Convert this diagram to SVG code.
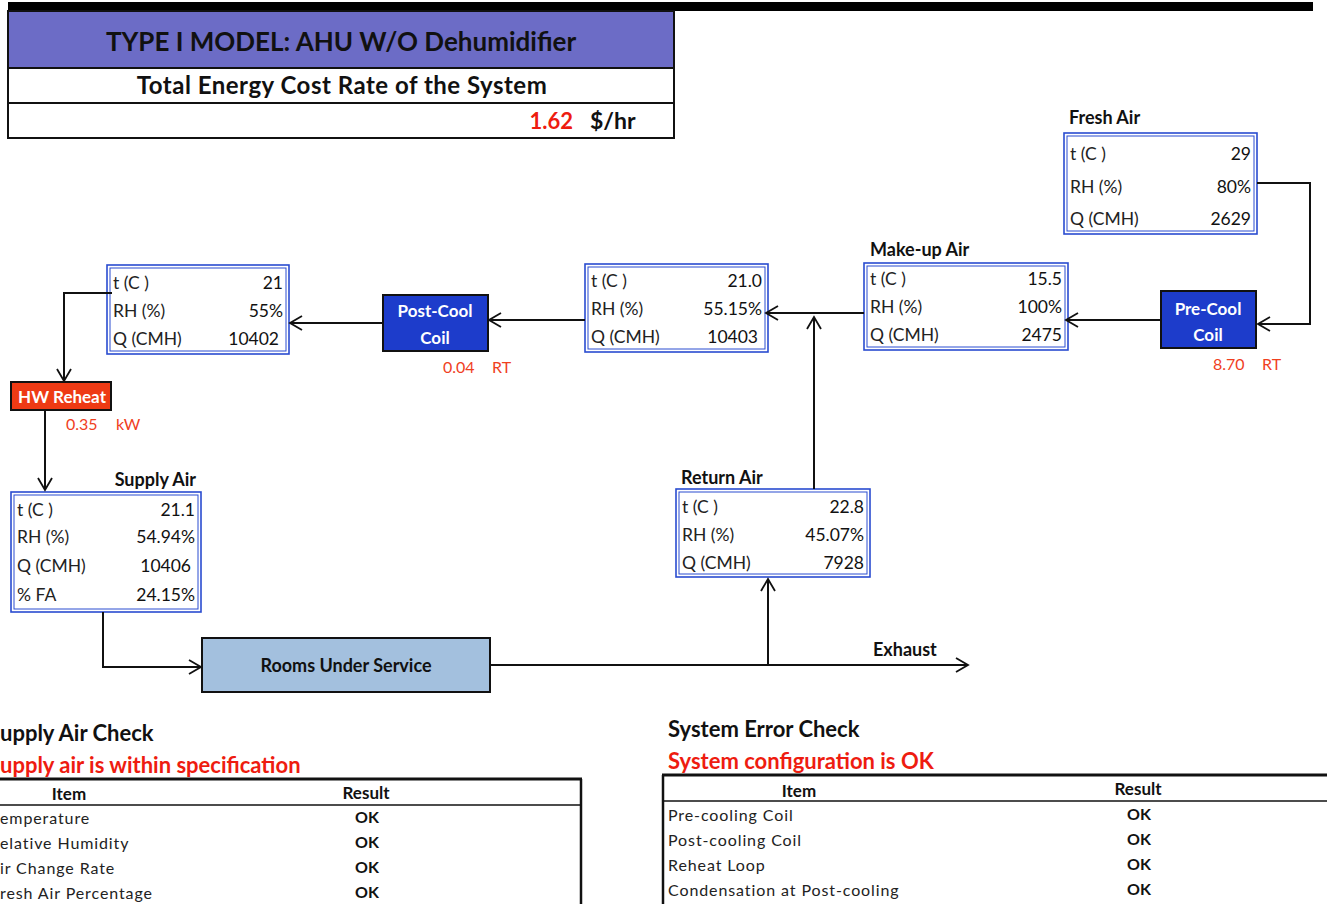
<svg xmlns="http://www.w3.org/2000/svg" width="1327" height="904" viewBox="0 0 1327 904">
<style>
text{font-family:Lato,"Open Sans","Liberation Sans",sans-serif;}
.b{font-weight:bold;}
.lab{font-size:18px;font-weight:bold;fill:#111;}
.cell{font-size:17.5px;fill:#222;}
.val{font-size:17.5px;fill:#111;text-anchor:end;}
.box1{fill:#fff;stroke:#2a4cd0;stroke-width:1.6;}
.box2{fill:none;stroke:#2a4cd0;stroke-width:1;}
.coil{fill:#1d3ccb;stroke:#111;stroke-width:2;}
.coilt{font-size:17px;font-weight:bold;fill:#fff;text-anchor:middle;}
.pow{font-size:16px;fill:#f0401e;}
.conn{fill:none;stroke:#111;stroke-width:2;marker-end:url(#arr);}
.th{font-size:17px;font-weight:bold;fill:#111;text-anchor:middle;}
.td{font-size:16px;fill:#222;letter-spacing:0.9px;}
.ok{font-size:16px;font-weight:bold;fill:#111;text-anchor:middle;}
.h2{font-size:22px;font-weight:bold;fill:#111;}
.h2r{font-size:22px;font-weight:bold;fill:#ee1c10;}
</style>
<defs>
<marker id="arr" markerUnits="userSpaceOnUse" markerWidth="16" markerHeight="16" refX="13" refY="8" orient="auto">
<path d="M1,1 L13,8 L1,15" fill="none" stroke="#111" stroke-width="1.8"/>
</marker>
</defs>
<rect width="1327" height="904" fill="#fff"/>

<g id="header">
<rect x="8" y="2" width="1305" height="9" fill="#000"/>
<rect x="8" y="11" width="666" height="57" fill="#6c6cc6"/>
<rect x="8" y="68" width="666" height="70" fill="#fff"/>
<rect x="8" y="11" width="666" height="127" fill="none" stroke="#111" stroke-width="2"/>
<line x1="8" y1="68" x2="674" y2="68" stroke="#111" stroke-width="2"/>
<line x1="8" y1="103" x2="674" y2="103" stroke="#111" stroke-width="2"/>
<text x="341" y="51" text-anchor="middle" class="b" font-size="26" fill="#111">TYPE I MODEL: AHU W/O Dehumidifier</text>
<text x="342" y="94" text-anchor="middle" class="b" font-size="24" fill="#111" letter-spacing="0.5">Total Energy Cost Rate of the System</text>
<text x="573" y="129" text-anchor="end" class="b" font-size="22" fill="#ee1c10">1.62</text>
<text x="590" y="129" class="b" font-size="23" fill="#111">$/hr</text>
</g>

<g id="fresh-air">
<text x="1069" y="124" class="lab">Fresh Air</text>
<rect x="1064" y="133" width="193" height="101" class="box1"/>
<rect x="1067" y="136" width="187" height="95" class="box2"/>
<text x="1070" y="160" class="cell">t (C )</text><text x="1251" y="160" class="val">29</text>
<text x="1070" y="193" class="cell">RH (%)</text><text x="1251" y="193" class="val">80%</text>
<text x="1070" y="225" class="cell">Q (CMH)</text><text x="1251" y="225" class="val">2629</text>
</g>

<g id="pre-cool-coil">
<rect x="1161" y="291" width="95" height="57" class="coil"/>
<text x="1208" y="315" class="coilt">Pre-Cool</text>
<text x="1208" y="341" class="coilt">Coil</text>
<text x="1213" y="370" class="pow">8.70</text>
<text x="1262" y="370" class="pow">RT</text>
</g>

<g id="make-up-air">
<text x="870" y="256" class="lab">Make-up Air</text>
<rect x="864" y="263" width="204" height="87" class="box1"/>
<rect x="867" y="266" width="198" height="81" class="box2"/>
<text x="870" y="285" class="cell">t (C )</text><text x="1062" y="285" class="val">15.5</text>
<text x="870" y="313" class="cell">RH (%)</text><text x="1062" y="313" class="val">100%</text>
<text x="870" y="341" class="cell">Q (CMH)</text><text x="1062" y="341" class="val">2475</text>
</g>

<g id="mixed-air">
<rect x="585" y="264" width="183" height="88" class="box1"/>
<rect x="588" y="267" width="177" height="82" class="box2"/>
<text x="591" y="287" class="cell">t (C )</text><text x="762" y="287" class="val">21.0</text>
<text x="591" y="315" class="cell">RH (%)</text><text x="762" y="315" class="val">55.15%</text>
<text x="591" y="343" class="cell">Q (CMH)</text><text x="758" y="343" class="val">10403</text>
</g>

<g id="post-cool-coil">
<rect x="383" y="295" width="105" height="56" class="coil"/>
<text x="435" y="317" class="coilt">Post-Cool</text>
<text x="435" y="344" class="coilt">Coil</text>
<text x="443" y="373" class="pow">0.04</text>
<text x="492" y="373" class="pow">RT</text>
</g>

<g id="off-coil-air">
<rect x="107" y="265" width="182" height="89" class="box1"/>
<rect x="110" y="268" width="176" height="83" class="box2"/>
<text x="113" y="289" class="cell">t (C )</text><text x="283" y="289" class="val">21</text>
<text x="113" y="317" class="cell">RH (%)</text><text x="283" y="317" class="val">55%</text>
<text x="113" y="345" class="cell">Q (CMH)</text><text x="279" y="345" class="val">10402</text>
</g>

<g id="hw-reheat">
<rect x="11" y="382" width="100" height="28" fill="#ee3a14" stroke="#111" stroke-width="2"/>
<text x="62" y="403" class="coilt" font-size="18">HW Reheat</text>
<text x="66" y="430" class="pow">0.35</text>
<text x="116" y="430" class="pow">kW</text>
</g>

<g id="supply-air">
<text x="196" y="486" class="lab" text-anchor="end">Supply Air</text>
<rect x="11" y="492" width="190" height="120" class="box1"/>
<rect x="14" y="495" width="184" height="114" class="box2"/>
<text x="17" y="516" class="cell">t (C )</text><text x="195" y="516" class="val">21.1</text>
<text x="17" y="543" class="cell">RH (%)</text><text x="195" y="543" class="val">54.94%</text>
<text x="17" y="572" class="cell">Q (CMH)</text><text x="191" y="572" class="val">10406</text>
<text x="17" y="601" class="cell">% FA</text><text x="195" y="601" class="val">24.15%</text>
</g>

<g id="rooms">
<rect x="202" y="638" width="288" height="54" fill="#a3c0de" stroke="#111" stroke-width="2"/>
<text x="346" y="672" text-anchor="middle" class="b" font-size="18" fill="#111">Rooms Under Service</text>
</g>

<g id="return-air">
<text x="681" y="484" class="lab">Return Air</text>
<rect x="676" y="489" width="194" height="88" class="box1"/>
<rect x="679" y="492" width="188" height="82" class="box2"/>
<text x="682" y="513" class="cell">t (C )</text><text x="864" y="513" class="val">22.8</text>
<text x="682" y="541" class="cell">RH (%)</text><text x="864" y="541" class="val">45.07%</text>
<text x="682" y="569" class="cell">Q (CMH)</text><text x="864" y="569" class="val">7928</text>
</g>

<g id="exhaust">
<text x="873" y="656" class="lab" font-size="17.5">Exhaust</text>
</g>

<g id="connectors">
<path class="conn" d="M1257,183 H1310 V324 H1258"/>
<path class="conn" d="M1161,320 H1066"/>
<path class="conn" d="M864,313 H766"/>
<path class="conn" d="M814,489 V317"/>
<path class="conn" d="M585,320 H489"/>
<path class="conn" d="M383,323 H290"/>
<path class="conn" d="M112,293 H64 V381"/>
<path class="conn" d="M45,410 V490"/>
<path class="conn" d="M103,612 V667 H201"/>
<path class="conn" d="M490,665 H968"/>
<path class="conn" d="M768,665 V579"/>
</g>

<g id="supply-air-check">
<text x="0" y="741" class="h2">upply Air Check</text>
<text x="0" y="773" class="h2r">upply air is within specification</text>
<line x1="0" y1="779" x2="582" y2="779" stroke="#111" stroke-width="3"/>
<line x1="581" y1="779" x2="581" y2="904" stroke="#111" stroke-width="2.5"/>
<line x1="0" y1="805" x2="581" y2="805" stroke="#111" stroke-width="1.5"/>
<text x="69" y="800" class="th">Item</text>
<text x="366" y="799" class="th">Result</text>
<text x="0" y="824" class="td">emperature</text><text x="367" y="823" class="ok">OK</text>
<text x="0" y="849" class="td">elative Humidity</text><text x="367" y="848" class="ok">OK</text>
<text x="0" y="874" class="td">ir Change Rate</text><text x="367" y="873" class="ok">OK</text>
<text x="0" y="899" class="td">resh Air Percentage</text><text x="367" y="898" class="ok">OK</text>
</g>

<g id="system-error-check">
<text x="668" y="737" class="h2">System Error Check</text>
<text x="668" y="769" class="h2r">System configuration is OK</text>
<line x1="662" y1="775" x2="1327" y2="775" stroke="#111" stroke-width="3"/>
<line x1="663" y1="775" x2="663" y2="904" stroke="#111" stroke-width="2.5"/>
<line x1="663" y1="801" x2="1327" y2="801" stroke="#111" stroke-width="1.5"/>
<text x="799" y="797" class="th">Item</text>
<text x="1138" y="795" class="th">Result</text>
<text x="668" y="821" class="td">Pre-cooling Coil</text><text x="1139" y="820" class="ok">OK</text>
<text x="668" y="846" class="td">Post-cooling Coil</text><text x="1139" y="845" class="ok">OK</text>
<text x="668" y="871" class="td">Reheat Loop</text><text x="1139" y="870" class="ok">OK</text>
<text x="668" y="896" class="td">Condensation at Post-cooling</text><text x="1139" y="895" class="ok">OK</text>
</g>
</svg>
